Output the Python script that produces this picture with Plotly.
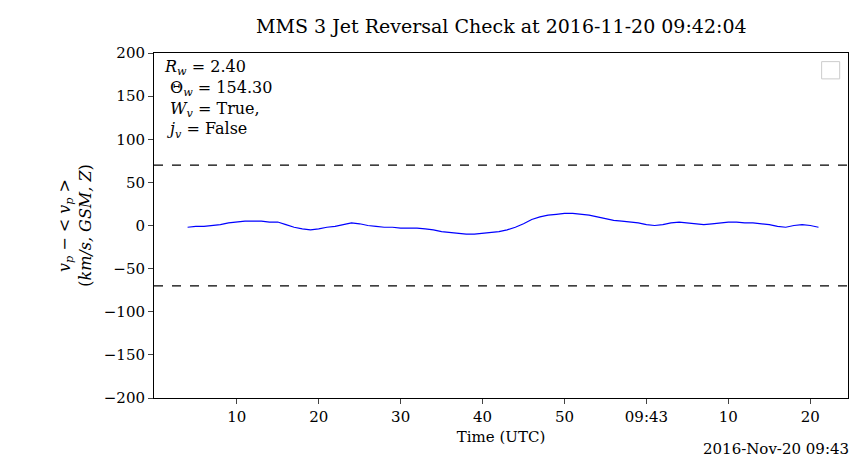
import plotly.graph_objects as go
import pandas as pd

t0 = pd.Timestamp("2016-11-20 09:42:00")
secs = list(range(4, 82))
vals = [-2,-1,-1,0,1,3,4,5,5,5,4,4,1,-2,-4,-5,-4,-2,-1,1,3,2,0,-1,-2,-2,-3,-3,-3,-4,-5,-7,-8,-9,-10,-10,-9,-8,-7,-5,-2,2,7,10,12,13,14,14,13,12,10,8,6,5,4,3,1,0,1,3,4,3,2,1,2,3,4,4,3,3,2,1,-1,-2,0,1,0,-2]
times = [t0 + pd.Timedelta(seconds=s) for s in secs]
tick_secs = [10,20,30,40,50,60,70,80]
tick_text = ["10","20","30","40","50","09:43","10","20"]
threshold = 70

fig = go.Figure()
fig.add_trace(go.Scatter(x=times, y=vals, mode="lines", line=dict(color="blue", width=1.2), showlegend=False))
for h in (threshold, -threshold):
    fig.add_hline(y=h, line=dict(color="black", width=1.2, dash="dash"))
fig.update_layout(
    width=858, height=467, plot_bgcolor="white", paper_bgcolor="white",
    margin=dict(l=146, r=18, t=45, b=77),
    font=dict(family="DejaVu Serif", size=15, color="black"),
    title=dict(text="MMS 3 Jet Reversal Check at 2016-11-20 09:42:04", x=0.575, xanchor="center", y=0.975, font=dict(size=19)),
    xaxis=dict(range=[t0 + pd.Timedelta(seconds=-0.1), t0 + pd.Timedelta(seconds=84.6)], automargin=False,
               tickvals=[t0 + pd.Timedelta(seconds=s) for s in tick_secs], ticktext=tick_text,
               showline=True, mirror=True, linecolor="black", ticks="outside", showgrid=False,
               title=dict(text="Time (UTC)", font=dict(size=15), standoff=6)),
    yaxis=dict(range=[-200, 200], dtick=50, showline=True, mirror=True, linecolor="black", automargin=False,
               ticks="outside", showgrid=False, zeroline=False,
               title=dict(text="<i>v<sub>p</sub></i> − < <i>v<sub>p</sub></i> ><br>(<i>km/s, GSM, Z</i>)", font=dict(size=16), standoff=8)),
)
fig.add_annotation(xref="paper", yref="paper", x=1.005, y=-0.115, xanchor="right", yanchor="top",
                   text="2016-Nov-20 09:43", showarrow=False, font=dict(size=15))
fig.add_annotation(xref="paper", yref="paper", x=0.012, y=0.995, xanchor="left", yanchor="top", align="left",
                   showarrow=False, font=dict(size=16),
                   text="<i>R<sub>w</sub></i> = 2.40<br> Θ<i><sub>w</sub></i> = 154.30<br> <i>W<sub>v</sub></i> = True,<br> <i>j<sub>v</sub></i> = False")
fig.add_shape(type="rect", xref="paper", yref="paper", x0=0.962, x1=0.988, y0=0.925, y1=0.975,
              line=dict(color="#cccccc", width=1), fillcolor="white")
fig.write_html("out.html")
